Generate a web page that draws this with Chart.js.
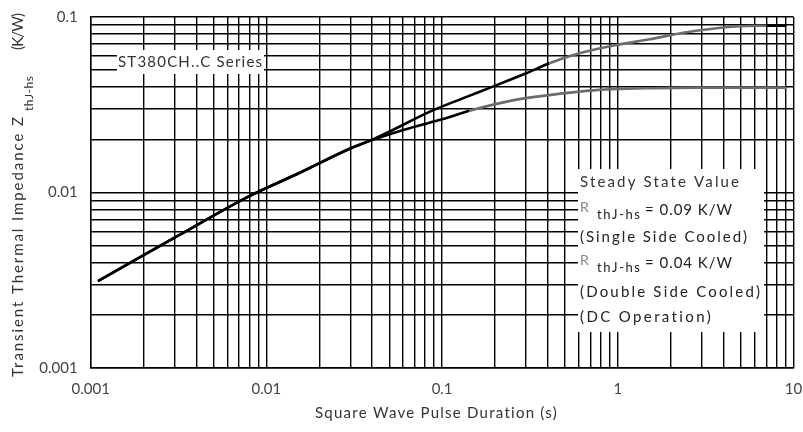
<!DOCTYPE html>
<html>
<head>
<meta charset="utf-8">
<script src="https://cdn.jsdelivr.net/npm/chart.js@4/dist/chart.umd.min.js"></script>
<style>
html,body{margin:0;padding:0;background:#fff;}
#wrap{width:803px;height:432px;position:relative;}
</style>
</head>
<body>
<div id="wrap"><canvas id="c" width="803" height="432"></canvas></div>
<script>
// ---- data ----
const xSingle = [0.0011, 0.0032, 0.0078, 0.0156, 0.030, 0.040, 0.050, 0.0847, 0.131, 0.194, 0.301, 0.408, 0.605, 0.98, 1.52, 2.35, 3.64, 6.15, 7.0, 9.1];
const ySingle = [0.00313, 0.00573, 0.00942, 0.0130, 0.0178, 0.0200, 0.0222, 0.0288, 0.0344, 0.0401, 0.0478, 0.0545, 0.0621, 0.0692, 0.0746, 0.0814, 0.0863, 0.0891, 0.0891, 0.0891];
const xDouble = [0.0011, 0.0032, 0.0078, 0.0156, 0.030, 0.040, 0.0608, 0.0847, 0.101, 0.143, 0.252, 0.487, 0.753, 1.52, 3.0, 9.1];
const yDouble = [0.00313, 0.00573, 0.00942, 0.0130, 0.0178, 0.0199, 0.0228, 0.0250, 0.0262, 0.0292, 0.0335, 0.0367, 0.0383, 0.0393, 0.0396, 0.0396];
const xTickValues = [0.001, 0.01, 0.1, 1, 10];
const xTickLabels = ['0.001', '0.01', '0.1', '1', '10'];
const yTickValues = [0.001, 0.01, 0.1];
const yTickLabels = ['0.001', '0.01', '0.1'];
const gridSteps = [1, 2, 3, 4, 5, 6, 7, 8, 9];
const seriesLabel = 'ST380CH..C Series';
const xTitle = 'Square Wave Pulse Duration (s)';

const FONT = 'Lato, "DejaVu Sans", sans-serif';
const BLACK = '#000';
const GRAY = '#6c6c6c';

function gridValues(decades) {
  const out = [];
  for (let i = 0; i < decades.length - 1; i++) {
    for (const m of gridSteps) out.push(+(decades[i] * m).toPrecision(6));
  }
  out.push(decades[decades.length - 1]);
  return out;
}
function labelFor(v, vals, labels) {
  for (let i = 0; i < vals.length; i++) {
    if (Math.abs(Math.log10(v) - Math.log10(vals[i])) < 1e-6) return labels[i];
  }
  return '';
}

function drawFit(ctx, text, x, y, size, target, color) {
  ctx.font = size + 'px ' + FONT;
  ctx.letterSpacing = '0px';
  const w = ctx.measureText(text).width;
  const ls = text.length > 1 ? (target - w) / (text.length - 1) : 0;
  ctx.letterSpacing = ls + 'px';
  ctx.fillStyle = color;
  ctx.fillText(text, x, y);
  ctx.letterSpacing = '0px';
}

const textPlugin = {
  id: 'texts',
  afterDraw(chart) {
    const ctx = chart.ctx;
    ctx.save();
    ctx.textAlign = 'left';
    ctx.textBaseline = 'middle';
    // series label box
    ctx.fillStyle = '#fff';
    ctx.fillRect(117, 50, 147, 24);
    drawFit(ctx, seriesLabel, 118, 62, 15, 144, '#333');
    // steady-state box
    ctx.fillStyle = '#fff';
    ctx.fillRect(578, 169, 186, 163);
    drawFit(ctx, 'Steady State Value', 580, 182, 15, 159, '#333');
    drawFit(ctx, 'R', 580, 207, 14, 10, '#888');
    drawFit(ctx, 'thJ-hs', 597, 215, 13, 43, '#222');
    drawFit(ctx, '= 0.09 K/W', 645, 210, 15, 87, '#222');
    drawFit(ctx, '(Single Side Cooled)', 580, 237, 15, 167, '#222');
    drawFit(ctx, 'R', 580, 260, 14, 10, '#888');
    drawFit(ctx, 'thJ-hs', 597, 268, 13, 43, '#222');
    drawFit(ctx, '= 0.04 K/W', 645, 263, 15, 87, '#222');
    drawFit(ctx, '(Double Side Cooled)', 580, 292, 15, 180, '#222');
    drawFit(ctx, '(DC Operation)', 580, 317, 15, 131, '#222');
    // x title
    drawFit(ctx, xTitle, 315, 413, 15, 242, '#333');
    // y title (rotated)
    ctx.translate(18, 377);
    ctx.rotate(-Math.PI / 2);
    drawFit(ctx, 'Transient Thermal Impedance Z', 0, 0, 15, 260, '#333');
    drawFit(ctx, 'thJ-hs', 266, 11, 12, 35, '#333');
    drawFit(ctx, '(K/W)', 327, 0, 15, 37, '#333');
    ctx.restore();
  }
};

const singleData = xSingle.map((x, i) => ({ x: x, y: ySingle[i] }));
const doubleData = xDouble.map((x, i) => ({ x: x, y: yDouble[i] }));

new Chart(document.getElementById('c'), {
  type: 'line',
  data: {
    datasets: [
      {
        label: 'Single Side Cooled',
        data: singleData,
        borderColor: BLACK,
        borderWidth: 2.6,
        pointRadius: 0,
        cubicInterpolationMode: 'monotone',
        segment: {
          borderColor: c => (c.p0.parsed.x >= 7 ? BLACK : (c.p0.parsed.x >= 0.408 ? GRAY : BLACK))
        }
      },
      {
        label: 'Double Side Cooled',
        data: doubleData,
        borderColor: BLACK,
        borderWidth: 2.6,
        pointRadius: 0,
        cubicInterpolationMode: 'monotone',
        segment: {
          borderColor: c => (c.p0.parsed.x >= 0.143 ? GRAY : BLACK)
        }
      }
    ]
  },
  options: {
    responsive: false,
    animation: false,
    events: [],
    layout: { padding: { top: 17, right: 9.5, left: 0, bottom: 0 } },
    plugins: { legend: { display: false }, tooltip: { enabled: false }, title: { display: false } },
    scales: {
      x: {
        type: 'logarithmic',
        min: 0.001,
        max: 10,
        afterBuildTicks: s => { s.ticks = gridValues(xTickValues).map(v => ({ value: v })); },
        afterFit: s => { s.height = 64; s.paddingLeft = 0; s.paddingRight = 0; s.paddingTop = 0; s.paddingBottom = 0; },
        grid: { color: BLACK, lineWidth: 1.4, drawTicks: false },
        border: { color: BLACK, width: 1.4 },
        ticks: {
          autoSkip: false,
          maxRotation: 0,
          padding: 12,
          color: '#444',
          font: { family: FONT, size: 15 },
          callback: v => labelFor(v, xTickValues, xTickLabels)
        }
      },
      y: {
        type: 'logarithmic',
        min: 0.001,
        max: 0.1,
        afterBuildTicks: s => { s.ticks = gridValues(yTickValues).map(v => ({ value: v })); },
        afterFit: s => { s.width = 90.7; s.paddingLeft = 0; s.paddingRight = 0; s.paddingTop = 0; s.paddingBottom = 0; },
        grid: { color: BLACK, lineWidth: 1.4, drawTicks: false },
        border: { color: BLACK, width: 1.4 },
        ticks: {
          autoSkip: false,
          padding: 13,
          color: '#444',
          font: { family: FONT, size: 15 },
          callback: v => labelFor(v, yTickValues, yTickLabels)
        }
      }
    }
  },
  plugins: [textPlugin]
});
</script>
</body>
</html>
